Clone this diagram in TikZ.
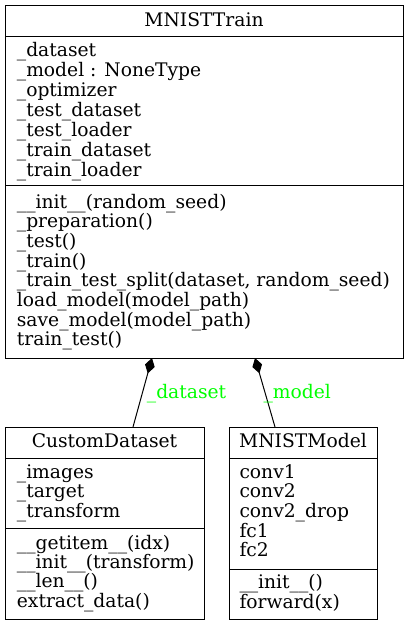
\documentclass[tikz,border=0pt]{standalone}
\usepackage{fontspec}
\setmainfont{DejaVu Serif}
\usetikzlibrary{arrows.meta}
\newlength\reflen
\definecolor{lblgreen}{RGB}{0,255,0}
\begin{document}
\settowidth\reflen{\fontsize{10pt}{12pt}\selectfont\_train\_test\_split(dataset, random\_seed)}%
\pgfmathsetmacro\umlfs{10*373/\reflen}%
\begin{tikzpicture}[x=1pt,y=-1pt]
\tikzset{
  umlbox/.style={draw=black, line width=1pt, anchor=north west, inner sep=0, outer sep=0},
  txt/.style={anchor=base west, inner sep=0, font=\fontsize{\umlfs pt}{\umlfs pt}\selectfont},
  ttl/.style={anchor=base, inner sep=0, font=\fontsize{\umlfs pt}{\umlfs pt}\selectfont},
  divider/.style={line width=1pt},
  comp/.style={line width=1pt, {Diamond[length=16pt,width=10pt]}-},
  lbl/.style={txt, text=lblgreen}
}
\useasboundingbox (0,0) rectangle (408,625);
% MNISTTrain
\node[umlbox, minimum width=398pt, minimum height=353pt] (train) at (5,5) {};
\draw[divider] (train.west |- 0,36) -- (train.east |- 0,36);
\draw[divider] (train.west |- 0,185) -- (train.east |- 0,185);
\node[ttl] (trainT) at (204,26.7) {MNISTTrain};
\foreach \s [count=\i from 0] in {\_dataset,\_model : NoneType,\_optimizer,\_test\_dataset,\_test\_loader,\_train\_dataset,\_train\_loader}
  \node[txt] (ta\i) at (16.7,56.7+20*\i) {\s};
\foreach \s [count=\i from 0] in {\_\_init\_\_(random\_seed),\_preparation(),\_test(),\_train(),{\_train\_test\_split(dataset, random\_seed)},load\_model(model\_path),save\_model(model\_path),train\_test()}
  \node[txt] (tm\i) at (16.7,208.3+19.63*\i) {\s};
% CustomDataset
\node[umlbox, minimum width=199pt, minimum height=192pt] (cd) at (5,427) {};
\draw[divider] (cd.west |- 0,458) -- (cd.east |- 0,458);
\draw[divider] (cd.west |- 0,528) -- (cd.east |- 0,528);
\node[ttl] (cdT) at (104.5,447.3) {CustomDataset};
\foreach \s [count=\i from 0] in {\_images,\_target,\_transform}
  \node[txt] (ca\i) at (16.7,478+19.85*\i) {\s};
\foreach \s [count=\i from 0] in {\_\_getitem\_\_(idx),\_\_init\_\_(transform),\_\_len\_\_(),extract\_data()}
  \node[txt] (cm\i) at (16.7,549.3+19.33*\i) {\s};
% MNISTModel
\node[umlbox, minimum width=148pt, minimum height=192pt] (mm) at (229,427) {};
\draw[divider] (mm.west |- 0,458) -- (mm.east |- 0,458);
\draw[divider] (mm.west |- 0,569) -- (mm.east |- 0,569);
\node[ttl] (mmT) at (303,447.3) {MNISTModel};
\foreach \s [count=\i from 0] in {conv1,conv2,conv2\_drop,fc1,fc2}
  \node[txt] (ma\i) at (239.3,478+19.67*\i) {\s};
\foreach \s [count=\i from 0] in {\_\_init\_\_(),forward(x)}
  \node[txt] (mmm\i) at (239.3,588.3+20*\i) {\s};
% connectors
\draw[comp] (train.south -| 152,0) -- (cd.north -| 133,0);
\draw[comp] (train.south -| 255,0) -- (mm.north -| 275,0);
\node[lbl] (l1) at (146.7,398.3) {\_dataset};
\node[lbl] (l2) at (263.3,398.3) {\_model};
\end{tikzpicture}
\end{document}
